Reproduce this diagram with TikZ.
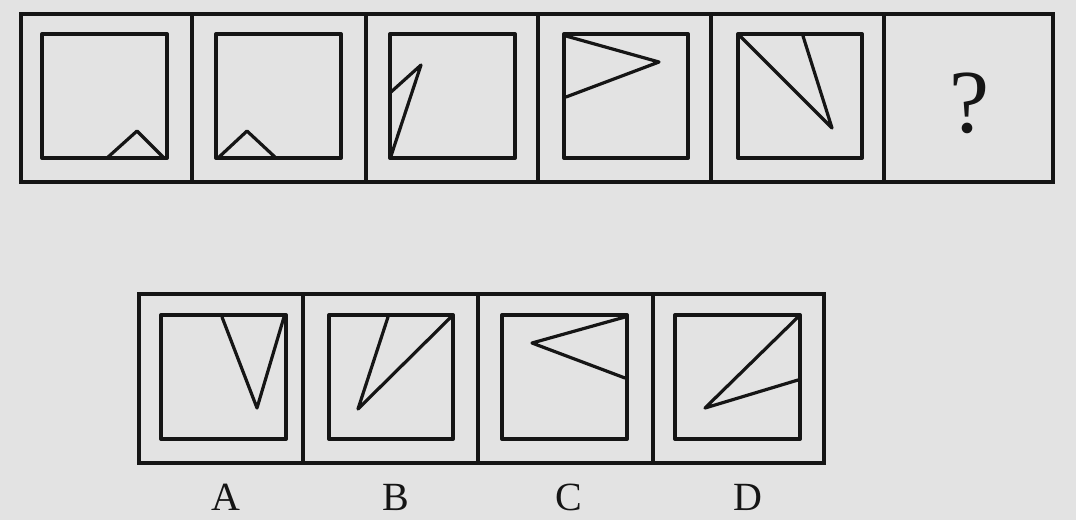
\documentclass[tikz,border=0pt]{standalone}
\usepackage{fontspec}
\setmainfont{Liberation Serif}
\definecolor{bgc}{HTML}{E3E3E3}
\definecolor{ink}{HTML}{151515}
\tikzset{
  frame/.style={draw=ink, line width=4.6pt, line join=miter},
  sq/.style={draw=ink, line width=4pt, line join=round},
  fig/.style={draw=ink, line width=3.2pt, line join=round, line cap=round},
  lbl/.style={text=ink, font=\fontsize{40}{40}\selectfont, inner sep=0pt},
  qm/.style={text=ink, font=\fontsize{90}{90}\selectfont, inner sep=0pt}
}
\begin{document}
\begin{tikzpicture}[x=1pt,y=-1pt]
\fill[bgc] (0,0) rectangle (1076,520);
\useasboundingbox (0,0) rectangle (1076,520);
% top row frame
\draw[frame] (21,14) rectangle (1053,182);
\foreach \d in {192,366,538,711,884} \draw[frame] (\d,14) -- (\d,182);
% top inner squares
\draw[sq] (42,34) rectangle (167,158);
\draw[sq] (216,34) rectangle (341,158);
\draw[sq] (390,34) rectangle (515,158);
\draw[sq] (564,34) rectangle (688,158);
\draw[sq] (738,34) rectangle (862,158);
% figures top
\draw[fig] (107,158) -- (137,131) -- (164,158);
\draw[fig] (218,158) -- (247,131) -- (276,158);
\draw[fig] (391,156) -- (421,65) -- (391,92);
\draw[fig] (566,36) -- (659,62) -- (566,97);
\draw[fig] (740,36) -- (832,128) -- (803,36);
\node[qm] (q) at (969,103) {?};
% bottom row frame
\draw[frame] (139,294) rectangle (824,463);
\foreach \d in {303,478,653} \draw[frame] (\d,294) -- (\d,463);
% bottom inner squares
\draw[sq] (161,315) rectangle (286,439);
\draw[sq] (329,315) rectangle (453,439);
\draw[sq] (502,315) rectangle (627,439);
\draw[sq] (675,315) rectangle (800,439);
% figures bottom
\draw[fig] (222,317) -- (257,408) -- (284,317);
\draw[fig] (388,317) -- (358,409) -- (451,317);
\draw[fig] (625,317) -- (532,343) -- (625,378);
\draw[fig] (798,317) -- (705,408) -- (798,380);
% labels
\node[lbl] (la) at (226,497) {A};
\node[lbl] (lb) at (396,497) {B};
\node[lbl] (lc) at (569,497) {C};
\node[lbl] (ld) at (748,497) {D};
\end{tikzpicture}
\end{document}
